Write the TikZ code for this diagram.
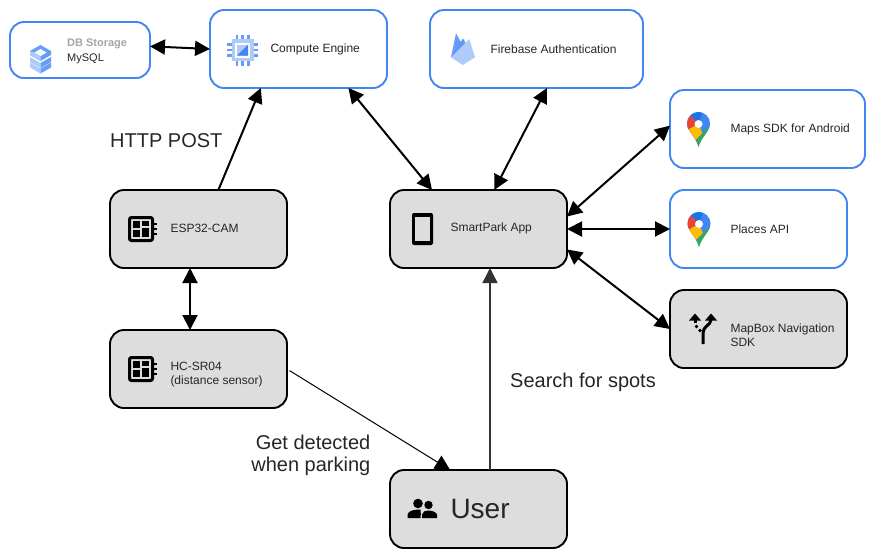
\documentclass[tikz,border=0pt]{standalone}
\usepackage{fontspec}
\setmainfont{Liberation Sans}
\usetikzlibrary{positioning,arrows.meta}

\definecolor{gcpblue}{HTML}{4285F4}
\definecolor{gcpmid}{HTML}{669DF6}
\definecolor{gcplight}{HTML}{AECBFA}
\definecolor{boxgray}{HTML}{DDDDDD}
\definecolor{pinblue}{HTML}{1A73E8}
\definecolor{pinred}{HTML}{EA4335}
\definecolor{pinyellow}{HTML}{FBBC04}
\definecolor{pingreen}{HTML}{34A853}

\tikzstyle{cloudbox} = [rectangle, rounded corners=14pt, minimum width=177pt, minimum height=78pt, line width=1.9pt, outer sep=0pt, draw=gcpblue, fill=white, inner sep=0pt]
\tikzstyle{devicebox} = [rectangle, rounded corners=14pt, minimum width=177pt, minimum height=78pt, line width=1.9pt, outer sep=0pt, draw=black, fill=boxgray, inner sep=0pt]
\tikzstyle{boxtext} = [inner sep=0pt, align=left, text=black!85, font=\fontsize{12}{14}\selectfont]
\tikzstyle{looselabel} = [inner sep=0pt, text=black!85, font=\fontsize{20}{22.5}\selectfont]
\tikzstyle{link} = [{Triangle[length=15pt,width=15pt]}-{Triangle[length=15pt,width=15pt]}, line width=2pt, black]
\tikzstyle{onelink} = [-{Triangle[length=15pt,width=15pt]}, line width=2pt, black]

\tikzset{
  pics/chipicon/.style={code={
    \foreach \p in {-5.7,0,5.7} {
      \fill [gcpmid] (\p-1.3,10) rectangle (\p+1.3,15.5);
      \fill [gcpmid] (\p-1.3,-15.5) rectangle (\p+1.3,-10);
      \fill [gcpmid] (10,\p-1.3) rectangle (15.5,\p+1.3);
      \fill [gcpmid] (-15.5,\p-1.3) rectangle (-10,\p+1.3);
    }
    \fill [gcplight] (-11,-11) rectangle (11,11);
    \fill [white] (-7.5,-7.5) rectangle (7.5,7.5);
    \fill [gcplight] (-5.5,-5.5) rectangle (5.5,5.5);
    \fill [gcpblue] (-5.5,-5.5) -- (5.5,5.5) -- (5.5,-5.5) -- cycle;
  }},
  pics/stackicon/.style={code={
    \foreach \s in {0,-5.5} {
      \fill [gcplight] (-10.5,-3+\s) -- (0,-9+\s) -- (0,-4+\s) -- (-10.5,2+\s) -- cycle;
      \fill [gcpmid] (10.5,-3+\s) -- (0,-9+\s) -- (0,-4+\s) -- (10.5,2+\s) -- cycle;
    }
    \fill [gcpmid] (0,14) -- (10.5,8) -- (10.5,4) -- (0,-2) -- (-10.5,4) -- (-10.5,8) -- cycle;
    \fill [gcplight] (0,-2) -- (-10.5,4) -- (-10.5,8) -- (-6,6.5) -- (0,3) -- cycle;
    \fill [white] (0,10) -- (6,6.5) -- (0,3) -- (-6,6.5) -- cycle;
  }},
  pics/flameicon/.style={code={
    \fill [gcpmid] (-11.5,-8.3) -- (-6.5,15.7) -- (-1,6) -- (3,-3) -- cycle;
    \fill [gcpblue!85] (-11.5,-8.3) -- (0.5,10.5) -- (6,1) -- cycle;
    \fill [gcplight] (-11.5,-8.3) -- (6.8,10) -- (12.5,-8.3) -- (0.2,-16) -- cycle;
  }},
  pics/pinicon/.style={code={
    \begin{scope}
      \clip (0,-17.5) .. controls (-2,-8) and (-11.5,-2) .. (-11.5,6) arc (180:0:11.5) .. controls (11.5,-2) and (2,-8) .. (0,-17.5);
      \fill [gcpblue] (-14,-20) rectangle (14,20);
      \fill [pinblue] (0,5.5) -- (-8,14) -- (-3,20) -- (5,20) -- cycle;
      \fill [pinred] (0,5.5) -- (-8,14) -- (-14,14) -- (-14,-2) -- cycle;
      \fill [pinyellow] (0,5.5) -- (-14,-2) -- (-14,-20) -- (-4.3,-12) -- (4,-3.7) -- cycle;
      \fill [pingreen] (11.7,3.8) -- (-4.3,-12) -- (-4.3,-20) -- (14,-20) -- (14,3.8) -- cycle;
    \end{scope}
    \fill [white] (0,5.5) circle (4);
  }},
  pics/boardicon/.style={code={
    \draw [line width=3pt, rounded corners=2pt] (-11.5,-11.5) rectangle (11.5,11.5);
    \fill (-8,0.8) rectangle (-0.8,8);
    \fill (0.8,3) rectangle (8,8);
    \fill (-8,-8) rectangle (-0.8,-0.8);
    \fill (0.8,-8) rectangle (8,1.4);
    \foreach \p in {-5,0,5}
      \draw [line width=2pt] (12.5,\p) -- (16,\p);
  }},
  pics/phoneicon/.style={code={
    \fill [rounded corners=2pt] (-10.5,-16) rectangle (10.5,16);
    \fill [boxgray] (-7.5,-12) rectangle (7.5,12);
  }},
  pics/forkicon/.style={code={
    \draw [line width=3pt] (0,-15) -- (0,-4) .. controls (0,3) and (7,3) .. (8,9);
    \fill (8,15.5) -- (14,8.5) -- (2,8.5) -- cycle;
    \fill (-8,15.5) -- (-14,8.5) -- (-2,8.5) -- cycle;
    \draw [line width=3pt] (-8,10) -- (-8,6.5);
    \fill (-6.5,2.5) circle (1.8);
    \fill (-3,-1.5) circle (1.8);
  }},
  pics/usersicon/.style={code={
    \fill (-4.5,7) circle (4.8);
    \fill (6,5.5) circle (4.2);
    \fill (-15,-7.5) -- (-15,-4) .. controls (-14,0) and (-8,1) .. (-2,1) -- (-2,-1) .. controls (-1,-2) and (-2,-4) .. (-2,-7.5) -- cycle;
    \fill (-0.5,-7.5) -- (-0.5,-4) .. controls (0,-1) and (3,0) .. (6,0) .. controls (10,0) and (14,-2) .. (14.5,-4) -- (14.5,-7.5) -- cycle;
  }}
}

\begin{document}
\begin{tikzpicture}[x=1pt,y=1pt]

	\useasboundingbox (0,0) rectangle (875,-558);

	\node (compute) [cloudbox] at (298.5,-49) {};
	\node (firebase) [cloudbox, minimum width=213pt, right of=compute, node distance=238pt] {};
	\node (dbstorage) [cloudbox, minimum width=140pt, minimum height=56pt, left of=compute, node distance=218.5pt, yshift=-1pt] {};
	\node (esp) [devicebox, below of=compute, node distance=180pt, xshift=-100pt] {};
	\node (hcsr) [devicebox, below of=esp, node distance=140pt] {};
	\node (app) [devicebox, right of=esp, node distance=280pt] {};
	\node (user) [devicebox, below of=app, node distance=280pt] {};
	\node (places) [cloudbox, right of=app, node distance=280pt] {};
	\node (maps) [cloudbox, minimum width=195pt, above of=places, node distance=100pt, xshift=9pt] {};
	\node (mapbox) [devicebox, below of=places, node distance=100pt] {};

	\node (computetext) [boxtext, right=60.3pt of compute.west, yshift=-0.5pt] {Compute Engine};
	\node (firebasetext) [boxtext, right=60.3pt of firebase.west, yshift=-0.5pt] {Firebase Authentication};
	\node (dbtext) [boxtext, right=57pt of dbstorage.west, yshift=-1pt, font=\fontsize{11}{15}\selectfont] {\textcolor{black!35}{\textbf{DB Storage}}\\MySQL};
	\node (esptext) [boxtext, right=60.3pt of esp.west, yshift=1pt] {ESP32-CAM};
	\node (hcsrtext) [boxtext, right=60.3pt of hcsr.west, yshift=-6pt] {HC-SR04\\(distance sensor)};
	\node (apptext) [boxtext, right=60.3pt of app.west, yshift=1pt] {SmartPark App};
	\node (mapstext) [boxtext, right=60.3pt of maps.west, yshift=-0.5pt] {Maps SDK for Android};
	\node (placestext) [boxtext, right=60.3pt of places.west, yshift=-0.5pt] {Places API};
	\node (mapboxtext) [boxtext, right=60.3pt of mapbox.west, yshift=-6pt] {MapBox Navigation\\SDK};
	\node (usertext) [boxtext, right=60.3pt of user.west, font=\fontsize{28}{32}\selectfont] {User};

	\node (httppost) [looselabel, above right=42pt and 0pt of esp.north west] {HTTP POST};
	\node (search) [looselabel, right=31.5pt of user.north, yshift=87.5pt] {Search for spots};
	\node (detected) [looselabel, align=right, left=19.5pt of user.north west, yshift=14.5pt] {Get detected\\when parking};

	\pic at ([xshift=32.5pt,yshift=-1pt]compute.west) {chipicon};
	\pic at ([xshift=30.5pt,yshift=-9pt]dbstorage.west) {stackicon};
	\pic at ([xshift=32.5pt]firebase.west) {flameicon};
	\pic at ([xshift=28.5pt,yshift=-0.5pt]maps.west) {pinicon};
	\pic at ([xshift=29pt,yshift=-0.5pt]places.west) {pinicon};
	\pic at ([xshift=31pt]esp.west) {boardicon};
	\pic at ([xshift=31pt]hcsr.west) {boardicon};
	\pic at ([xshift=32.5pt]app.west) {phoneicon};
	\pic at ([xshift=33pt]mapbox.west) {forkicon};
	\pic at ([xshift=32.5pt,yshift=-1.5pt]user.west) {usersicon};

	\draw [link] (dbstorage.3) -- (compute.west);
	\draw [onelink] (esp.63.4) -- (compute.226.9);
	\draw [link] (compute.322.9) -- (app.140.6);
	\draw [link] (firebase.285) -- (app.68.3);
	\draw [link] (app.8.9) -- (maps.178.8);
	\draw [link] (app.east) -- (places.west);
	\draw [link] (app.347.3) -- (mapbox.west);
	\draw [link] ([xshift=-8.5pt]esp.south) -- ([xshift=-8.5pt]hcsr.north);
	\draw [-{Triangle[length=15pt,width=15pt]}, line width=1pt, shorten <=3pt] (hcsr.east) -- (user.126.2);
	\draw [-{Triangle[length=15pt,width=15pt]}, line width=1.4pt, black!80] ([xshift=11.5pt]user.north) -- ([xshift=11.5pt]app.south);

\end{tikzpicture}
\end{document}
